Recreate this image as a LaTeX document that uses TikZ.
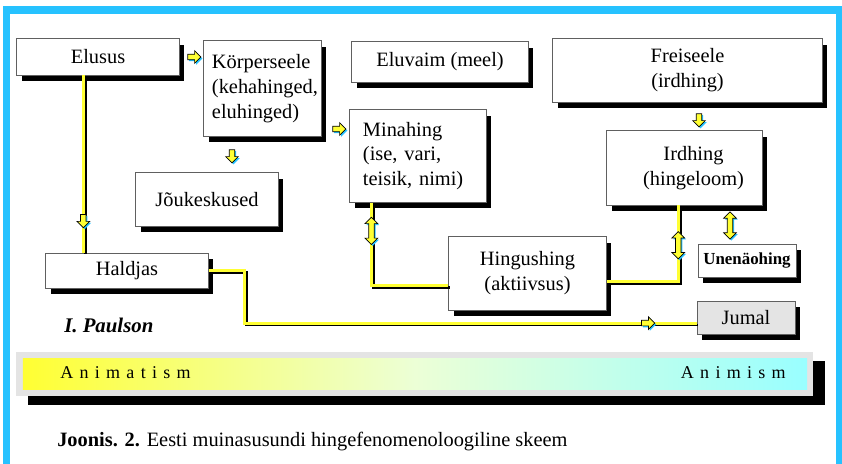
\documentclass[tikz,border=0pt]{standalone}
\usepackage{fontspec}
\setmainfont{Liberation Serif}
\usetikzlibrary{calc}
\usetikzlibrary{shapes.arrows}
\usetikzlibrary{shadows}
\definecolor{mblue}{RGB}{38, 194, 255}
\definecolor{myellow}{RGB}{255, 255, 51}
\definecolor{mgray}{RGB}{96, 96, 96}
\definecolor{lgray}{RGB}{228, 228, 228}
\definecolor{lefty}{RGB}{255, 255, 51}
\definecolor{midy}{RGB}{236, 255, 214}
\definecolor{rightc}{RGB}{153, 255, 255}
\tikzset{box/.style = {draw = mgray, fill = white, line width = 0.7pt, inner sep = 0,
    font = \fontsize{14.5}{17.7}\selectfont,
    drop shadow = {fill = black, opacity = 1, shadow xshift = 0.125cm, shadow yshift = -0.14cm}}}
\tikzset{yline/.style = {draw = myellow, line width = 2pt,
    preaction = {draw = black, line width = 2pt, transform canvas = {shift = {(1.3pt, -1.3pt)}}}}}
\tikzset{arr/.style = {draw = black, fill = myellow, line width = 0.5pt, inner xsep = 0, inner ysep = 0.06cm,
    drop shadow = {fill = mblue, opacity = 1, shadow xshift = 1pt, shadow yshift = -1pt}}}
\tikzset{rarr/.style = {arr, single arrow, minimum height = 0.33cm, single arrow head extend = 0.09cm}}
\tikzset{darr/.style = {rarr, rotate = -90}}
\tikzset{vdarr/.style = {arr, double arrow, minimum height = 0.68cm, double arrow head extend = 0.09cm, rotate = 90}}
\tikzset{spaced/.style = {inner sep = 0, font = {\fontsize{12.8}{15}\selectfont\spaceskip = 0.35em\relax}}}

\begin{document}
\begin{tikzpicture}[x = 0.025cm, y = -0.025cm]
    \useasboundingbox (0, 0) rectangle (842, 464);
    \draw [mblue, line width = 5pt] (6.5, 464) -- (6.5, 10) -- (839.5, 10) -- (839.5, 464);

    % boxes
    \node [box, minimum width = 4.05cm, minimum height = 0.9cm] (elusus) at (98, 57) {Elusus};
    \node [box, text width = 2.525cm, inner xsep = 0.2cm, minimum height = 2.375cm, align = left] (koerper) at (262.5, 88.5) {Körperseele\\(kehahinged,\\eluhinged)};
    \node [box, minimum width = 4.4cm, minimum height = 1cm] (eluvaim) at (440, 62) {Eluvaim (meel)};
    \node [box, text width = 2.75cm, inner xsep = 0.325cm, minimum height = 2.3cm, align = left] (minahing) at (418, 156) {Minahing\\(ise, vari,\\teisik, nimi)};
    \node [box, minimum width = 3.55cm, minimum height = 1.325cm] (joud) at (207, 199.5) {Jõukeskused};
    \node [box, minimum width = 6.725cm, minimum height = 1.575cm, align = center] (freiseele) at (687.5, 70.5) {Freiseele\\(irdhing)};
    \node [box, minimum width = 3.875cm, minimum height = 1.85cm, align = center] (irdhing) at (684.5, 168) {\hspace*{0.45cm}Irdhing\\\hspace*{0.45cm}(hingeloom)};
    \node [box, minimum width = 4.05cm, minimum height = 0.875cm] (haldjas) at (127, 270.5) {Haldjas};
    \node [box, minimum width = 3.925cm, minimum height = 1.825cm, align = center] (hingushing) at (527.5, 273.5) {Hingushing\\(aktiivsus)};
    \node [box, minimum width = 2.45cm, minimum height = 0.825cm, font = \fontsize{12}{14}\selectfont\bfseries] (unenao) at (747, 260.5) {Unenäohing};
    \node [box, fill = lgray, minimum width = 2.45cm, minimum height = 0.825cm] (jumal) at (746, 317.5) {Jumal};

    % loose arrows
    \foreach \name/\sty/\x/\y in {ar1/rarr/193/57, ar2/darr/232/155, ar3/rarr/338/129, ar4/darr/699/119, ar5/vdarr/730/225.5} {
      \node [\sty] (\name) at (\x, \y) {};
    }

    % leads
    \coordinate (e1) at ($(elusus.south west)!0.41!(elusus.south east)$);
    \draw [yline] (e1) -- (e1 |- haldjas.north) node [darr, pos = 0.815] {};
    \coordinate (m1) at ($(minahing.south west)!0.16!(minahing.south east)$);
    \draw [yline] (m1) |- ([yshift = -0.31cm]hingushing.west) node [vdarr, pos = 0.17] {};
    \coordinate (i1) at ($(irdhing.south west)!0.46!(irdhing.south east)$);
    \draw [yline] ([yshift = -0.21cm]hingushing.east) -| (i1) node [vdarr, pos = 0.74] {};
    \draw [yline] (haldjas.east) -- ++(36, 0) |- ([yshift = -0.14cm]jumal.west) node [rarr, pos = 0.945] {};

    \node [anchor = base west, inner sep = 0, font = \fontsize{14.8}{17}\selectfont\bfseries\itshape] (paulson) at (64, 333) {I. Paulson};

    % scale bar
    \node [fill = lgray, minimum width = 19.925cm, minimum height = 1.1cm,
      drop shadow = {fill = black, opacity = 1, shadow xshift = 0.3cm, shadow yshift = -0.225cm}] (bar) at (414.5, 374) {};
    \node [shading = axis, left color = lefty, right color = rightc, middle color = midy,
      minimum width = 19.6cm, minimum height = 0.75cm] (scale) at (415, 374) {};
    \node [spaced, anchor = base west] (animatism) at (60, 379) {A n i m a t i s m};
    \node [spaced, anchor = base east] (animism) at (786, 379) {A n i m i s m};

    \node [anchor = base west, inner sep = 0, font = \fontsize{14.5}{17}\selectfont] (caption) at (57, 447) {\textbf{Joonis. 2.} Eesti muinasusundi hingefenomenoloogiline skeem};
  \end{tikzpicture}
\end{document}
